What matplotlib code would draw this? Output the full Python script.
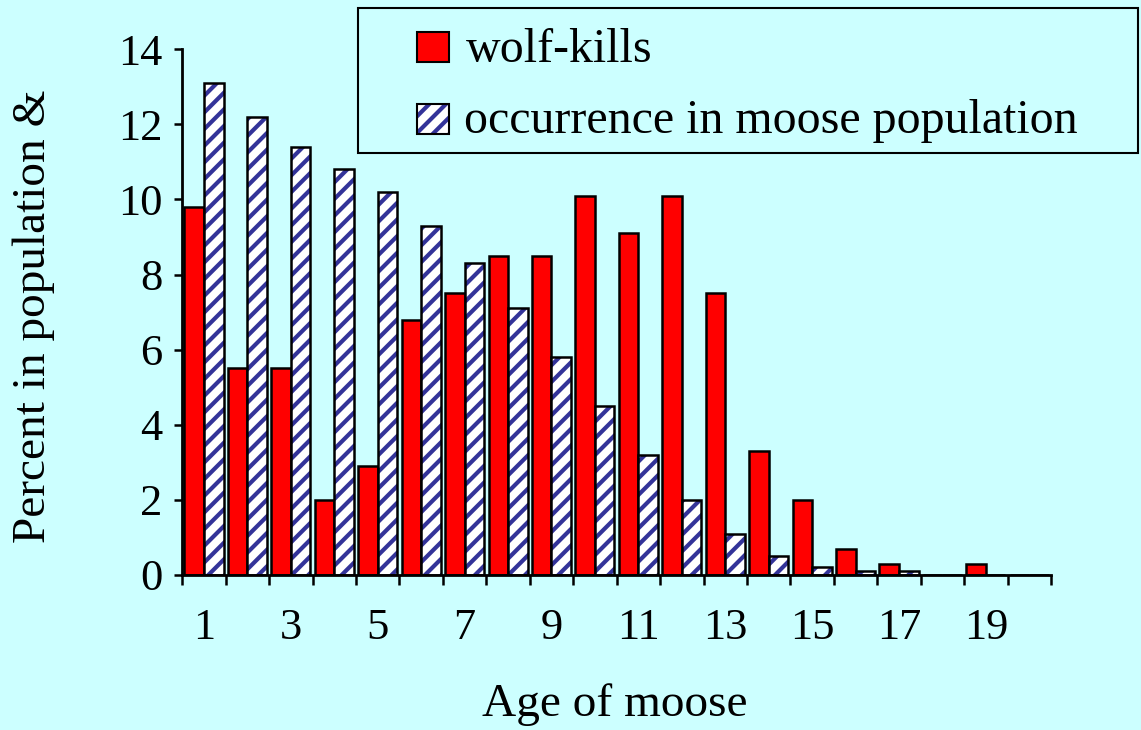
import numpy as np
import matplotlib
matplotlib.use("Agg")
import matplotlib.pyplot as plt
from matplotlib.patches import Rectangle

# ages 1..20, percent values
ages = np.arange(1, 21)
wolf_kills = [9.8, 5.5, 5.5, 2.0, 2.9, 6.8, 7.5, 8.5, 8.5, 10.1,
              9.1, 10.1, 7.5, 3.3, 2.0, 0.7, 0.3, 0.0, 0.3, 0.0]
occurrence = [13.1, 12.2, 11.4, 10.8, 10.2, 9.3, 8.3, 7.1, 5.8, 4.5,
              3.2, 2.0, 1.1, 0.5, 0.2, 0.1, 0.1, 0.0, 0.0, 0.0]
yticks = [0, 2, 4, 6, 8, 10, 12, 14]
xtick_ages = [1, 3, 5, 7, 9, 11, 13, 15, 17, 19]
legend_labels = ["wolf-kills", "occurrence in moose population"]

BG = "#CCFFFF"
RED = "#FF0000"
STRIPE = "#333399"

plt.rcParams["font.family"] = ["Liberation Serif", "DejaVu Serif"]
plt.rcParams["hatch.linewidth"] = 3.0

fig = plt.figure(figsize=(11.41, 7.30), dpi=100, facecolor=BG)
ax = fig.add_axes([182.3 / 1141, 155 / 730, 868.7 / 1141, 525.7 / 730])
ax.set_facecolor(BG)

x = np.arange(len(ages))
w = 0.45

# wolf-kills: solid red
ax.bar(x - w / 2, wolf_kills, width=w, color=RED, edgecolor="black",
       linewidth=1.8, zorder=2)
# occurrence: blue stripes on white, then a black outline on top
ax.bar(x + w / 2, occurrence, width=w, color="white", edgecolor=STRIPE,
       hatch="//", linewidth=0, zorder=2)
ax.bar(x + w / 2, occurrence, width=w, fill=False, edgecolor="black",
       linewidth=1.8, zorder=3)

ax.set_xlim(-0.5, len(ages) - 0.5)
ax.set_ylim(0, 14)

for s in ["top", "right"]:
    ax.spines[s].set_visible(False)
for s in ["left", "bottom"]:
    ax.spines[s].set_linewidth(2)
    ax.spines[s].set_zorder(4)

ax.set_yticks(yticks)
ax.set_yticklabels([str(v) for v in yticks])
ax.tick_params(axis="y", direction="out", length=6, width=1.8,
               labelsize=32, pad=8)

# boundary ticks without labels, labels on odd ages at the centres
ax.set_xticks(np.arange(-0.5, len(ages), 1.0))
ax.set_xticklabels([])
ax.tick_params(axis="x", which="major", direction="out", length=7, width=1.8)
ax.set_xticks([a - 1 for a in xtick_ages], minor=True)
ax.set_xticklabels([str(a) for a in xtick_ages], minor=True)
ax.tick_params(axis="x", which="minor", length=0, labelsize=32, pad=24)

fig.text(615 / 1141, 1 - 716 / 730, "Age of moose", fontsize=34,
         ha="center", va="baseline")
fig.text(34 / 1141, 1 - 316 / 730, "Percent in population &", fontsize=34,
         rotation=90, ha="center", va="center")

# legend box drawn by hand to match the original placement
fig.patches.append(Rectangle((358 / 1141, 1 - 153 / 730), 780 / 1141, 145 / 730,
                             transform=fig.transFigure, facecolor=BG,
                             edgecolor="black", linewidth=1.5, zorder=5))
fig.patches.append(Rectangle((417 / 1141, 1 - 62 / 730), 32 / 1141, 30 / 730,
                             transform=fig.transFigure, facecolor=RED,
                             edgecolor="black", linewidth=1.5, zorder=6))
fig.patches.append(Rectangle((417 / 1141, 1 - 134 / 730), 32 / 1141, 30 / 730,
                             transform=fig.transFigure, facecolor="white",
                             edgecolor=STRIPE, hatch="//", linewidth=0, zorder=6))
fig.patches.append(Rectangle((417 / 1141, 1 - 134 / 730), 32 / 1141, 30 / 730,
                             transform=fig.transFigure, fill=False,
                             edgecolor="black", linewidth=1.5, zorder=7))
fig.text(466 / 1141, 1 - 62 / 730, legend_labels[0], fontsize=34.5,
         ha="left", va="baseline", zorder=8)
fig.text(464 / 1141, 1 - 133 / 730, legend_labels[1], fontsize=34.5,
         ha="left", va="baseline", zorder=8)

fig.savefig("out.png", dpi=100, facecolor=BG)
